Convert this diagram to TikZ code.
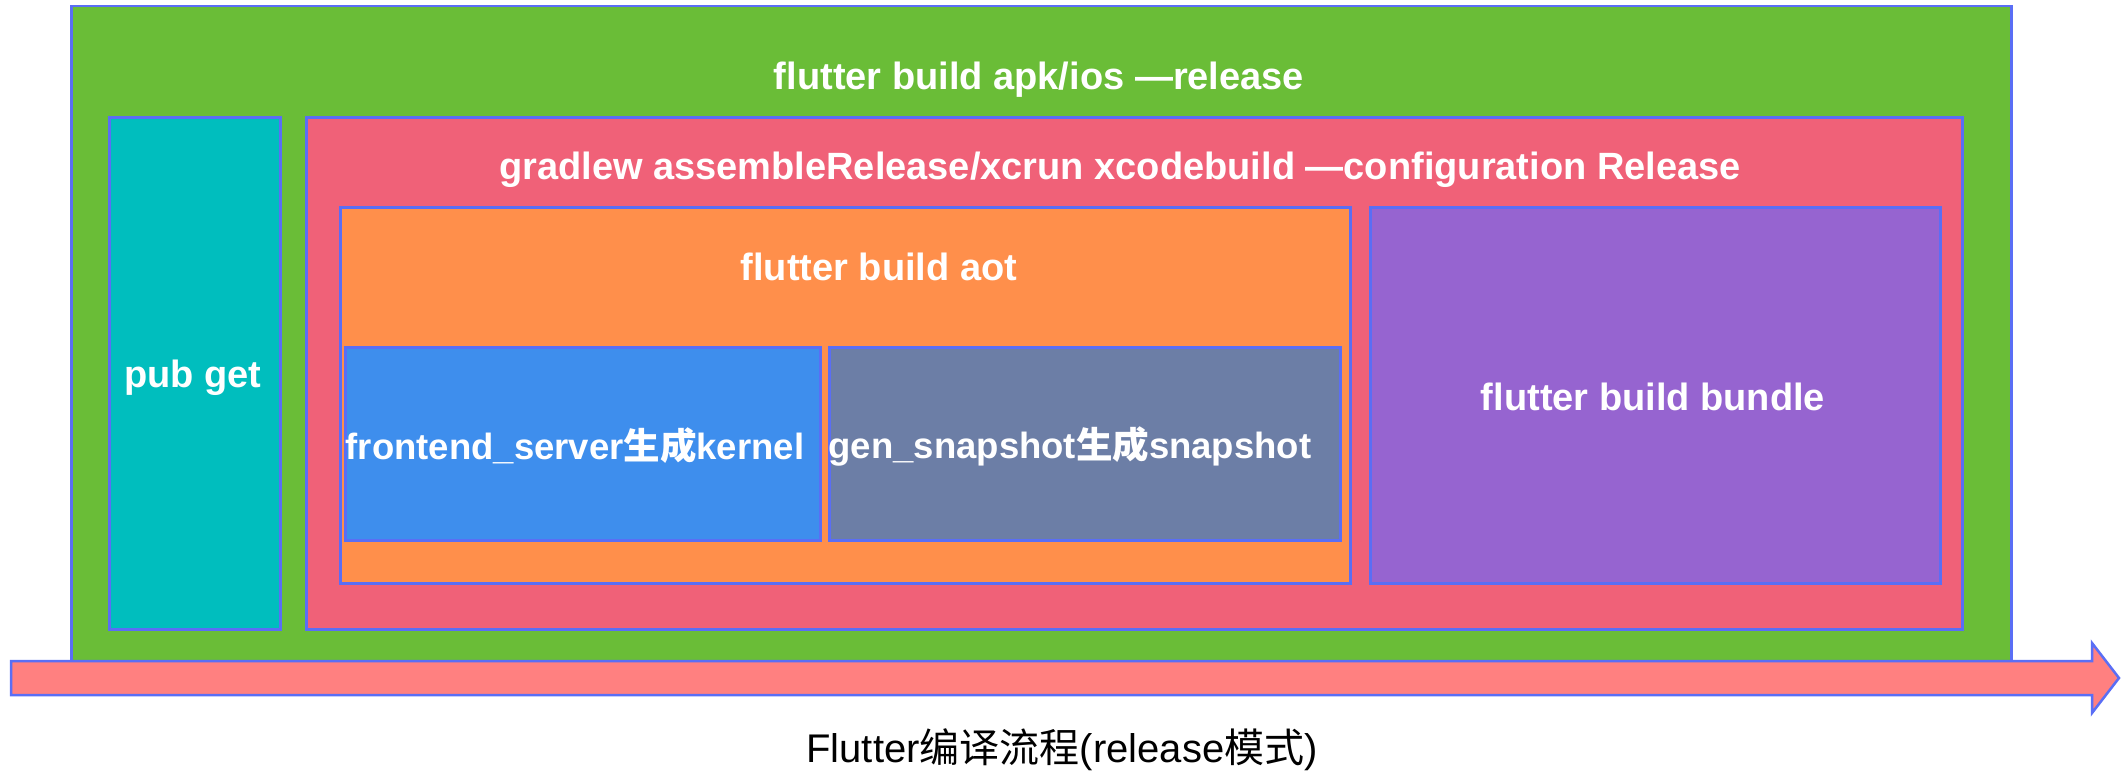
\documentclass[tikz,border=0pt]{standalone}
\usepackage{fontspec}
\setmainfont{Liberation Sans}
\newfontfamily\cjk{Noto Sans CJK SC}
\definecolor{cgreen}{HTML}{6ABD37}
\definecolor{ccyan}{HTML}{00BEBE}
\definecolor{cpink}{HTML}{F06178}
\definecolor{corange}{HTML}{FF8F4B}
\definecolor{cpurple}{HTML}{9664D0}
\definecolor{cblue}{HTML}{3E8EED}
\definecolor{cgray}{HTML}{6C7EA6}
\definecolor{carrow}{HTML}{FF8080}
\definecolor{cborder}{HTML}{5A6EF5}
\begin{document}
\begin{tikzpicture}[x=1pt,y=-1pt,
  box/.style={draw=cborder, line width=2.5pt, inner sep=0pt, anchor=north west},
  ttl/.style={text=white, font=\fontsize{38}{42}\selectfont\bfseries, inner sep=0pt},
  sub/.style={text=white, font=\fontsize{36.5}{42}\selectfont\bfseries, inner sep=0pt},
  captxt/.style={text=black, font=\fontsize{40}{44}\selectfont, inner sep=0pt}]
\useasboundingbox (0,0) rectangle (2121,776);
% outer green
\node[box, fill=cgreen, minimum width=1940pt, minimum height=655pt] (green) at (70,5) {};
\node[box, fill=ccyan, minimum width=171pt, minimum height=512pt] (pub) at (108,116) {};
\node[box, fill=cpink, minimum width=1656pt, minimum height=512pt] (gradle) at (305,116) {};
\node[box, fill=corange, minimum width=1010pt, minimum height=376pt] (aot) at (339,206) {};
\node[box, fill=cpurple, minimum width=570pt, minimum height=376pt] (bundle) at (1369,206) {};
\node[box, fill=cblue, minimum width=475pt, minimum height=193pt] (fe) at (344,346) {};
\node[box, fill=cgray, minimum width=511pt, minimum height=193pt] (gs) at (828,346) {};
% arrow
\draw[draw=cborder, line width=2.5pt, fill=carrow, line join=miter]
  (11,661) coordinate (a0) -- (2092,661) -- (2092,643) -- (2119,678) coordinate (tip) -- (2092,713) -- (2092,695) -- (11,695) -- cycle;
% texts
\node[ttl] (t1) at (1039,80) {flutter build apk/ios —release};
\node[ttl] (t2) at (1120,170) {gradlew assembleRelease/xcrun xcodebuild —configuration Release};
\node[ttl] (t3) at (879,267) {flutter build aot};
\node[ttl] (t4) at (193,378) {pub get};
\node[ttl] (t5) at (1653,397) {flutter build bundle};
\node[sub] (t6) at (575,446) {frontend\_server{\cjk\bfseries 生成}kernel};
\node[sub] (t7) at (1070,446) {gen\_snapshot{\cjk\bfseries 生成}snapshot};
\node[captxt] (t8) at (1062,750) {Flutter{\cjk 编译流程}(release{\cjk 模式})};
\end{tikzpicture}
\end{document}
